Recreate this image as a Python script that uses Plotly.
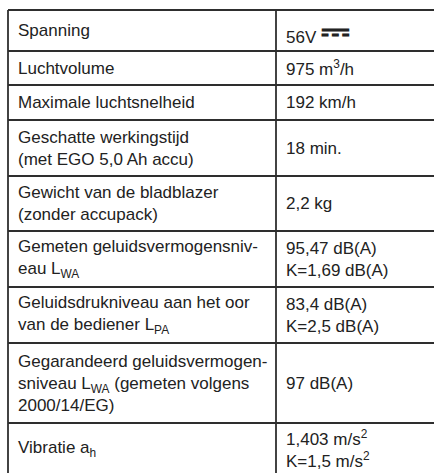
import plotly.graph_objects as go
import numpy as np

# ---- data ----
labels = [
    "Spanning",
    "Luchtvolume",
    "Maximale luchtsnelheid",
    "Geschatte werkingstijd<br>(met EGO 5,0 Ah accu)",
    "Gewicht van de bladblazer<br>(zonder accupack)",
    "Gemeten geluidsvermogensniv-<br>eau L<sub>WA</sub>",
    "Geluidsdrukniveau aan het oor<br>van de bediener L<sub>PA</sub>",
    "Gegarandeerd geluidsvermogen-<br>sniveau L<sub>WA</sub> (gemeten volgens<br>2000/14/EG)",
    "Vibratie a<sub>h</sub>",
]
values = [
    "56V <b><span style='font-size:36px'>⎓</span></b>",
    "975 m<sup>3</sup>/h",
    "192 km/h",
    "18 min.",
    "2,2 kg",
    "95,47 dB(A)<br>K=1,69 dB(A)",
    "83,4 dB(A)<br>K=2,5 dB(A)",
    "97 dB(A)",
    "1,403 m/s<sup>2</sup><br>K=1,5 m/s<sup>2</sup>",
]

# ---- layout / style ----
W, H = 434, 473
top = 10
row_heights = [41, 34, 35, 56, 55, 56, 56, 80, 52]
x_left, x_mid, x_right = 8, 276, 434
pad = 8
line_color = "#2e2e2e"
line_w = 1.8
font = dict(family="Liberation Sans, Arial, sans-serif", size=17, color="#222222")

edges = top + np.concatenate([[0], np.cumsum(row_heights)])

fig = go.Figure()
shapes = []
for y in edges:
    shapes.append(dict(type="line", xref="x", yref="y", x0=x_left, x1=x_right, y0=y, y1=y,
                       line=dict(color=line_color, width=line_w)))
for x in (x_left, x_mid):
    shapes.append(dict(type="line", xref="x", yref="y", x0=x, x1=x, y0=edges[0], y1=edges[-1],
                       line=dict(color=line_color, width=line_w)))

annotations = []
for i, (lab, val) in enumerate(zip(labels, values)):
    yc = (edges[i] + edges[i + 1]) / 2
    annotations.append(dict(x=x_left + pad, y=yc, xref="x", yref="y", text=lab, showarrow=False,
                            xanchor="left", yanchor="middle", align="left", font=font))
    annotations.append(dict(x=x_mid + pad, y=yc, xref="x", yref="y", text=val, showarrow=False,
                            xanchor="left", yanchor="middle", align="left", font=font))

fig.update_layout(
    width=W, height=H,
    margin=dict(l=0, r=0, t=0, b=0),
    paper_bgcolor="white", plot_bgcolor="white",
    xaxis=dict(range=[0, W], visible=False, fixedrange=True),
    yaxis=dict(range=[H, 0], visible=False, fixedrange=True),
    shapes=shapes, annotations=annotations, showlegend=False,
)

fig.write_html("out.html", config={"displayModeBar": False},
               post_script="document.body.style.margin='0';document.body.style.overflow='hidden';")
